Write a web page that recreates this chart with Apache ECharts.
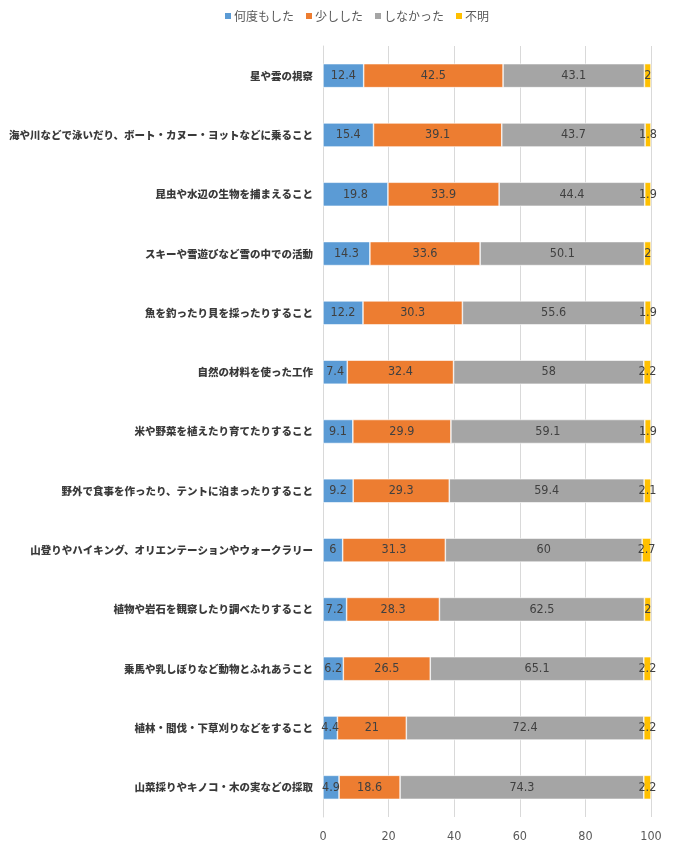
<!DOCTYPE html>
<html>
<head>
<meta charset="utf-8">
<style>
  html, body { margin: 0; padding: 0; background: #fff; }
  #chart { width: 674px; height: 850px; }
</style>
<script src="https://cdn.jsdelivr.net/npm/echarts@6/dist/echarts.min.js"></script>
</head>
<body>
<div id="chart"></div>
<script>
// Activities (top to bottom)
const categories = [
  '星や雲の視察',
  '海や川などで泳いだり、ボート・カヌー・ヨットなどに乗ること',
  '昆虫や水辺の生物を捕まえること',
  'スキーや雪遊びなど雪の中での活動',
  '魚を釣ったり貝を採ったりすること',
  '自然の材料を使った工作',
  '米や野菜を植えたり育てたりすること',
  '野外で食事を作ったり、テントに泊まったりすること',
  '山登りやハイキング、オリエンテーションやウォークラリー',
  '植物や岩石を観察したり調べたりすること',
  '乗馬や乳しぼりなど動物とふれあうこと',
  '植林・間伐・下草刈りなどをすること',
  '山菜採りやキノコ・木の実などの採取'
];

const seriesNames = ['何度もした', '少しした', 'しなかった', '不明'];

// Percentages per answer
const manyTimes = [12.4, 15.4, 19.8, 14.3, 12.2, 7.4, 9.1, 9.2, 6, 7.2, 6.2, 4.4, 4.9];
const aLittle   = [42.5, 39.1, 33.9, 33.6, 30.3, 32.4, 29.9, 29.3, 31.3, 28.3, 26.5, 21, 18.6];
const never     = [43.1, 43.7, 44.4, 50.1, 55.6, 58, 59.1, 59.4, 60, 62.5, 65.1, 72.4, 74.3];
const unknown   = [2, 1.8, 1.9, 2, 1.9, 2.2, 1.9, 2.1, 2.7, 2, 2.2, 2.2, 2.2];

const xTicks = [0, 20, 40, 60, 80, 100];

const colors = ['#5B9BD5', '#ED7D31', '#A5A5A5', '#FFC000'];
const valueSets = [manyTimes, aLittle, never, unknown];

const numFont = '"DejaVu Sans Condensed", "Liberation Sans Narrow", "Liberation Sans", sans-serif';

const chart = echarts.init(document.getElementById('chart'));

const series = seriesNames.map((name, i) => ({
  name: name,
  type: 'bar',
  stack: 'total',
  barWidth: 24,
  data: valueSets[i],
  itemStyle: { color: colors[i], borderColor: '#ffffff', borderWidth: 0.6 },
  label: {
    show: true,
    position: 'inside',
    color: '#404040',
    fontSize: 12.5,
    fontFamily: numFont,
    formatter: p => String(p.value)
  },
  emphasis: { disabled: true }
}));

chart.setOption({
  animation: false,
  color: colors,
  legend: {
    top: 5,
    left: 218,
    itemWidth: 8,
    itemHeight: 8,
    itemGap: 10,
    icon: 'rect',
    textStyle: {
      color: '#595959',
      fontSize: 12,
      fontFamily: '"Noto Sans CJK JP", sans-serif',
      padding: [0, 0, 0, -3]
    },
    data: seriesNames
  },
  grid: { left: 323, right: 23, top: 46, bottom: 33, containLabel: false },
  xAxis: {
    type: 'value',
    min: 0,
    max: 100,
    interval: 20,
    axisLine: { show: false },
    axisTick: { show: false },
    splitLine: { show: true, lineStyle: { color: '#D9D9D9', width: 1 } },
    axisLabel: {
      color: '#595959',
      fontSize: 12.5,
      margin: 13,
      fontFamily: numFont,
      formatter: v => (xTicks.indexOf(v) >= 0 ? String(v) : '')
    }
  },
  yAxis: {
    type: 'category',
    inverse: true,
    data: categories,
    axisLine: { show: true, lineStyle: { color: '#D9D9D9' } },
    axisTick: { show: false },
    axisLabel: {
      color: '#3A3A3A',
      fontSize: 10.5,
      fontWeight: 900,
      margin: 10,
      fontFamily: '"Noto Sans CJK JP", sans-serif'
    }
  },
  series: series
});
</script>
</body>
</html>
